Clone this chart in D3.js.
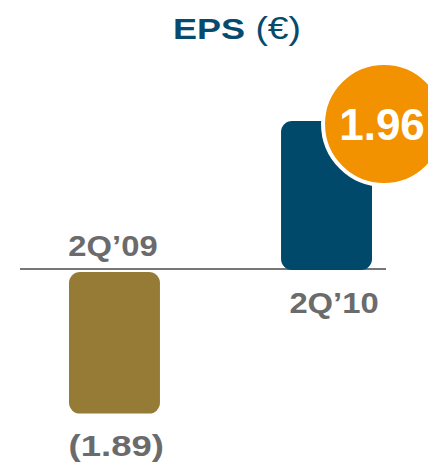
<!DOCTYPE html>
<html>
<head>
<meta charset="utf-8">
<script src="https://cdn.jsdelivr.net/npm/d3@7/dist/d3.min.js"></script>
<style>
  body { margin: 0; background: #fff; }
  text { font-family: "Liberation Sans", Arial, sans-serif; }
</style>
</head>
<body>
<div id="chart"></div>
<script>
var categories = ["2Q\u201909", "2Q\u201910"];
var values = [-1.89, 1.96];
var valueLabels = ["(1.89)", "1.96"];
var barColors = ["#957b35", "#00496b"];

var width = 428, height = 466;
var svg = d3.select('#chart').append('svg')
  .attr('width', width)
  .attr('height', height);

var x = d3.scaleBand().domain(categories)
  .range([69, 372])
  .paddingInner(0.571)
  .paddingOuter(0);

var y = d3.scaleLinear().domain([-1.89, 1.96]).range([413.6, 121]);
var y0 = y(0);

// wide-ish text like the original slide
var stretch = function (sel, tx, ty, sx) {
  return sel.attr('x', 0).attr('y', 0)
    .attr('transform', 'translate(' + tx + ',' + ty + ') scale(' + sx + ',1)');
};

// title
var title = svg.append('text')
  .attr('text-anchor', 'middle')
  .attr('fill', '#064a6d')
  .style('font-size', '30px');
stretch(title, 237, 38.5, 1.2);
title.append('tspan').style('font-weight', 'bold').text('EPS');
title.append('tspan').style('font-size', '31px').text(' (\u20ac)');

// baseline
svg.append('line')
  .attr('x1', 20).attr('x2', 386)
  .attr('y1', y0 - 1).attr('y2', y0 - 1)
  .attr('stroke', '#777')
  .attr('stroke-width', 2);

// bars
svg.selectAll('rect.bar').data(values)
  .enter().append('rect')
  .attr('class', 'bar')
  .attr('x', function (d, i) { return x(categories[i]); })
  .attr('width', x.bandwidth())
  .attr('y', function (d) { return d > 0 ? y(d) : y0 + 2; })
  .attr('height', function (d) { return d > 0 ? y0 - y(d) : y(d) - y0 - 2; })
  .attr('rx', 11)
  .attr('fill', function (d, i) { return barColors[i]; });

// category labels
svg.selectAll('text.cat').data(values)
  .enter().append('text')
  .attr('class', 'cat')
  .attr('text-anchor', 'middle')
  .attr('fill', '#6b6b6b')
  .style('font-size', '29px')
  .style('font-weight', 'bold')
  .attr('transform', function (d, i) {
    var cx = x(categories[i]) + x.bandwidth() / 2 + (d > 0 ? 7.5 : -1.5);
    var by = d > 0 ? y0 + 43.5 : y0 - 14;
    return 'translate(' + cx + ',' + by + ') scale(1.13,1)';
  })
  .text(function (d, i) { return categories[i]; });

// negative value label
var neg = svg.append('text')
  .attr('text-anchor', 'middle')
  .attr('fill', '#6b6b6b')
  .style('font-size', '29px')
  .style('font-weight', 'bold')
  .text(valueLabels[0]);
stretch(neg, x(categories[0]) + x.bandwidth() / 2 + 1.8, y(values[0]) + 42, 1.26);

// bubble for positive value
var cx = x(categories[1]) + 103, cy = y(values[1]) + 3;
svg.append('circle')
  .attr('cx', cx).attr('cy', cy).attr('r', 61)
  .attr('fill', '#f39200')
  .attr('stroke', '#fff')
  .attr('stroke-width', 4);

svg.append('text')
  .attr('x', cx - 2).attr('y', cy + 16)
  .attr('text-anchor', 'middle')
  .attr('fill', '#fff')
  .style('font-size', '44px')
  .style('font-weight', 'bold')
  .text(valueLabels[1]);
</script>
</body>
</html>
